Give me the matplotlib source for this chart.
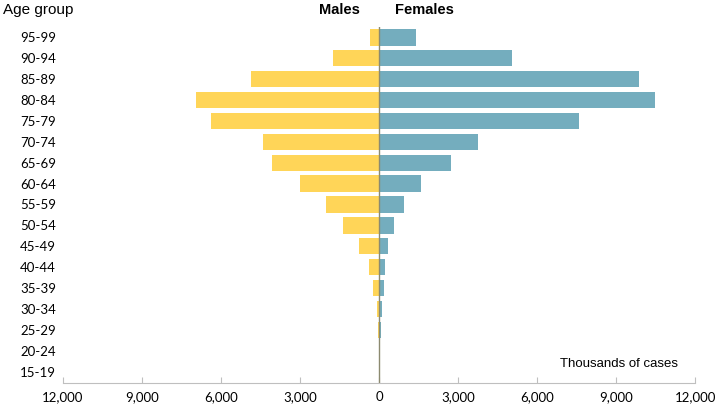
import numpy as np
import matplotlib
matplotlib.use("Agg")
import matplotlib.pyplot as plt

age_groups = ["15-19", "20-24", "25-29", "30-34", "35-39", "40-44", "45-49", "50-54",
              "55-59", "60-64", "65-69", "70-74", "75-79", "80-84", "85-89", "90-94", "95-99"]
males = [5, 20, 50, 90, 240, 380, 770, 1380, 2000, 3010, 4050, 4400, 6390, 6950, 4870, 1760, 330]
females = [5, 30, 60, 115, 180, 240, 355, 560, 940, 1600, 2710, 3740, 7570, 10480, 9870, 5050, 1390]
xticks = [-12000, -9000, -6000, -3000, 0, 3000, 6000, 9000, 12000]

yellow = "#FFD558"
blue = "#74ADBE"

fig = plt.figure(figsize=(7.16, 4.08), dpi=100)
ax = fig.add_axes([0.088, 0.061, 0.883, 0.873])

y = np.arange(len(age_groups))
ax.barh(y, -np.array(males), height=0.78, color=yellow, edgecolor="none")
ax.barh(y, females, height=0.78, color=blue, edgecolor="none")
ax.axvline(0, color="#8c8a70", lw=1)

ax.set_xlim(-12000, 12000)
ax.set_ylim(-0.55, 16.5)
ax.set_xticks(xticks)
ax.set_xticklabels([f"{abs(v):,}" for v in xticks], fontsize=9.5, family="Lato")
ax.set_yticks(y)
ax.set_yticklabels(age_groups, fontsize=9.5, family="Lato", ha="left")
ax.tick_params(axis="y", length=0, pad=31)
ax.tick_params(axis="x", direction="in", length=4, color="#bfbfbf", pad=6)

for s in ["top", "right", "left"]:
    ax.spines[s].set_visible(False)
ax.spines["bottom"].set_color("#bfbfbf")

fig.text(0.004, 0.993, "Age group", fontsize=11, family="Liberation Sans", va="top")
fig.text(0.502, 0.993, "Males", fontsize=10.5, family="Liberation Sans", weight="bold", va="top", ha="right")
fig.text(0.552, 0.993, "Females", fontsize=10.5, family="Liberation Sans", weight="bold", va="top")
ax.text(0.786, 0.045, "Thousands of cases", transform=ax.transAxes, fontsize=9.5,
        family="Liberation Sans", va="baseline")

fig.savefig("out.png", dpi=100)
